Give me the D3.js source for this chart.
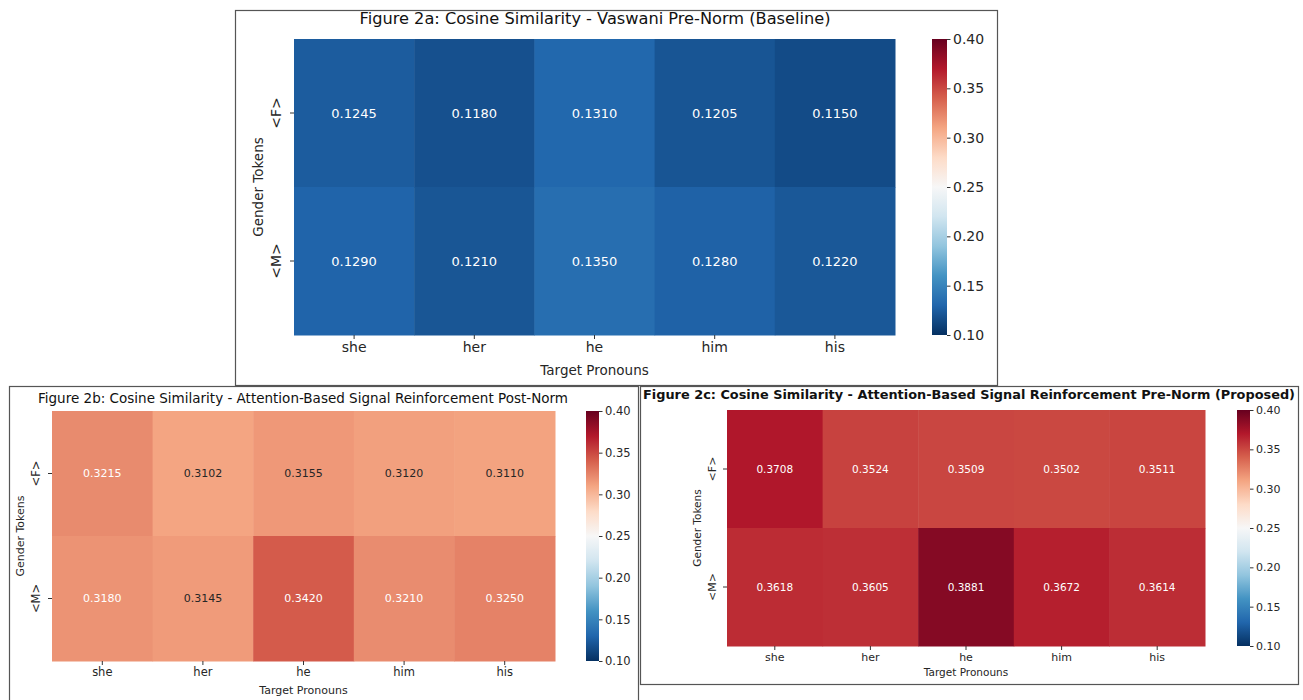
<!DOCTYPE html>
<head>
    <style>
        body { margin: 0; background: #fff; }
        svg { display: block; font-family: "DejaVu Sans", sans-serif; }
        .domain { display: none; }
    </style>
</head>
<body>
    <script src="https://d3js.org/d3.v7.min.js"></script>
    <script>
        const w = 1303, h = 700;

        const pronouns = ["she", "her", "he", "him", "his"];
        const tokens = ["<F>", "<M>"];
        const simBaseline = [[0.1245, 0.1180, 0.1310, 0.1205, 0.1150],
                             [0.1290, 0.1210, 0.1350, 0.1280, 0.1220]];
        const simPostNorm = [[0.3215, 0.3102, 0.3155, 0.3120, 0.3110],
                             [0.3180, 0.3145, 0.3420, 0.3210, 0.3250]];
        const simProposed = [[0.3708, 0.3524, 0.3509, 0.3502, 0.3511],
                             [0.3618, 0.3605, 0.3881, 0.3672, 0.3614]];
        const cbarTicks = [0.10, 0.15, 0.20, 0.25, 0.30, 0.35, 0.40];
        const titles = [
            "Figure 2a: Cosine Similarity - Vaswani Pre-Norm (Baseline)",
            "Figure 2b: Cosine Similarity - Attention-Based Signal Reinforcement Post-Norm",
            "Figure 2c: Cosine Similarity - Attention-Based Signal Reinforcement Pre-Norm (Proposed)"
        ];

        // matplotlib RdBu_r, built from the 11 brewer colours
        const rdbu = ["#053061", "#2166ac", "#4393c3", "#92c5de", "#d1e5f0", "#f7f7f7",
                      "#fddbc7", "#f4a582", "#d6604d", "#b2182b", "#67001f"];
        const color = d3.scaleLinear()
                        .domain(d3.range(11).map(i => 0.1 + i * 0.03))
                        .range(rdbu)
                        .interpolate(d3.interpolateRgb)
                        .clamp(true);

        function textColor(v) {
            const c = d3.rgb(color(v));
            const lin = x => { x /= 255; return x <= 0.03928 ? x / 12.92 : Math.pow((x + 0.055) / 1.055, 2.4); };
            const lum = 0.2126 * lin(c.r) + 0.7152 * lin(c.g) + 0.0722 * lin(c.b);
            return lum > 0.408 ? "#262626" : "#ffffff";
        }

        const svg = d3.select('body')
                      .append('svg')
                      .attr('width', w)
                      .attr('height', h);

        const defs = svg.append('defs');
        const grad = defs.append('linearGradient')
                         .attr('id', 'cbar')
                         .attr('x1', 0).attr('y1', 1).attr('x2', 0).attr('y2', 0);
        grad.selectAll('stop')
            .data(d3.range(0, 1.0001, 0.02))
            .enter()
            .append('stop')
            .attr('offset', d => d)
            .attr('stop-color', d => color(0.1 + d * 0.3));

        const panels = [
            { data: simBaseline, title: titles[0], bold: false,
              frame: [235, 10, 762, 375],
              heat: [294, 39, 601, 296], cbar: [932, 15],
              titleY: 24, titleX: 595, titleW: 471, titleFs: 16,
              tickFs: 14, annotFs: 13, labelFs: 13.5, ylabX: 258, xlabY: 375 },
            { data: simPostNorm, title: titles[1], bold: false,
              frame: [9, 386, 629, 330],
              heat: [52, 411, 503, 250], cbar: [586, 13],
              titleY: 403, titleX: 303, titleW: 530, titleFs: 14,
              tickFs: 11.5, annotFs: 11, labelFs: 11, ylabX: 20, xlabY: 694 },
            { data: simProposed, title: titles[2], bold: true,
              frame: [640, 386, 658, 298],
              heat: [727, 410, 478, 236], cbar: [1237, 13],
              titleY: 399, titleX: 969, titleW: 652, titleFs: 13,
              tickFs: 11, annotFs: 10.5, labelFs: 10.5, ylabX: 697, xlabY: 676 }
        ];

        panels.forEach(p => {
            const [hx, hy, hw, hh] = p.heat;
            const g = svg.append('g');

            g.append('rect')
             .attr('x', p.frame[0] + 0.5).attr('y', p.frame[1] + 0.5)
             .attr('width', p.frame[2]).attr('height', p.frame[3])
             .attr('fill', 'none')
             .attr('stroke', '#555')
             .attr('stroke-width', 1.2);

            g.append('text')
             .attr('x', p.titleX).attr('y', p.titleY)
             .attr('text-anchor', 'middle')
             .attr('font-size', p.titleFs)
             .attr('font-weight', p.bold ? 'bold' : 'normal')
             .attr('fill', '#111')
             .attr('textLength', p.titleW)
             .attr('lengthAdjust', 'spacingAndGlyphs')
             .text(p.title);

            const x = d3.scaleBand().domain(pronouns).range([hx, hx + hw]);
            const y = d3.scaleBand().domain(tokens).range([hy, hy + hh]);

            const cells = [];
            p.data.forEach((row, i) => row.forEach((v, j) => cells.push({ t: tokens[i], p: pronouns[j], v: v })));

            g.selectAll('rect.cell')
             .data(cells)
             .enter()
             .append('rect')
             .attr('class', 'cell')
             .attr('x', d => x(d.p)).attr('y', d => y(d.t))
             .attr('width', x.bandwidth() + 0.5).attr('height', y.bandwidth() + 0.5)
             .attr('fill', d => color(d.v));

            g.selectAll('text.annot')
             .data(cells)
             .enter()
             .append('text')
             .attr('x', d => x(d.p) + x.bandwidth() / 2)
             .attr('y', d => y(d.t) + y.bandwidth() / 2)
             .attr('dy', '0.35em')
             .attr('text-anchor', 'middle')
             .attr('font-size', p.annotFs)
             .attr('fill', d => textColor(d.v))
             .text(d => d.v.toFixed(4));

            const xAxis = g.append('g')
                           .attr('transform', `translate(0,${hy + hh})`)
                           .call(d3.axisBottom(x).tickSize(4).tickPadding(3));
            const yAxis = g.append('g')
                           .attr('transform', `translate(${hx},0)`)
                           .call(d3.axisLeft(y).tickSize(4).tickPadding(3));
            [xAxis, yAxis].forEach(a => {
                a.selectAll('text').attr('font-size', p.tickFs).attr('fill', '#262626')
                 .attr('font-family', '"DejaVu Sans", sans-serif');
                a.selectAll('line').attr('stroke', '#333');
            });
            yAxis.selectAll('.tick text')
                 .attr('text-anchor', 'middle')
                 .attr('transform', function() {
                     const xx = +d3.select(this).attr('x');
                     return `translate(${xx - p.tickFs * 0.4},0) rotate(-90)`;
                 })
                 .attr('x', 0).attr('dy', 0);

            g.append('text')
             .attr('x', hx + hw / 2).attr('y', p.xlabY)
             .attr('text-anchor', 'middle')
             .attr('font-size', p.labelFs)
             .attr('fill', '#262626')
             .text('Target Pronouns');

            g.append('text')
             .attr('transform', `translate(${p.ylabX},${hy + hh / 2}) rotate(-90)`)
             .attr('text-anchor', 'middle')
             .attr('dy', '0.35em')
             .attr('font-size', p.labelFs)
             .attr('fill', '#262626')
             .text('Gender Tokens');

            // colour bar
            const [cx, cw] = p.cbar;
            g.append('rect')
             .attr('x', cx).attr('y', hy)
             .attr('width', cw).attr('height', hh)
             .attr('fill', 'url(#cbar)');
            const cs = d3.scaleLinear().domain([0.1, 0.4]).range([hy + hh, hy]);
            const cAxis = g.append('g')
                           .attr('transform', `translate(${cx + cw},0)`)
                           .call(d3.axisRight(cs).tickValues(cbarTicks).tickFormat(d3.format('.2f'))
                                   .tickSize(3.5).tickPadding(2.5));
            cAxis.selectAll('text').attr('font-size', p.tickFs).attr('fill', '#262626')
                 .attr('font-family', '"DejaVu Sans", sans-serif');
            cAxis.selectAll('line').attr('stroke', '#333');
        });
    </script>
</body>
